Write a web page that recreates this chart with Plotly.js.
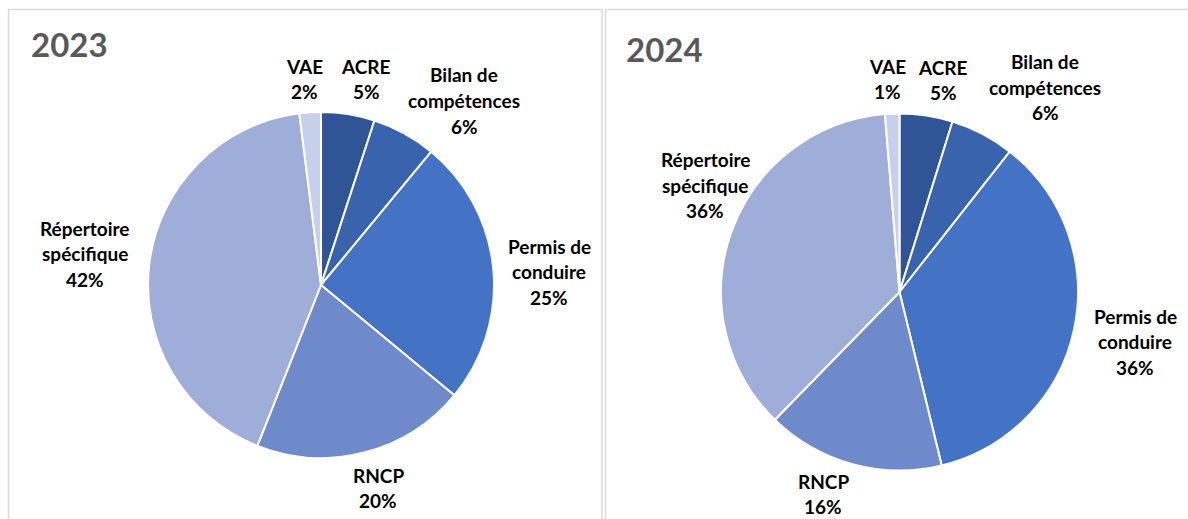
<!DOCTYPE html>
<html>
<head>
<meta charset="utf-8">
<script src="https://cdn.plot.ly/plotly-3.0.1.min.js"></script>
<style>html,body{margin:0;padding:0;background:#fff;}#chart{width:1188px;height:519px;}</style>
</head>
<body>
<div id="chart"></div>
<script>
// Data
const categories = ["ACRE", "Bilan de compétences", "Permis de conduire", "RNCP", "Répertoire spécifique", "VAE"];
const labelLines = [["ACRE"], ["Bilan de", "compétences"], ["Permis de", "conduire"], ["RNCP"], ["Répertoire", "spécifique"], ["VAE"]];
const values2023 = [5, 6, 25, 20, 42, 2];
const values2024 = [4.8, 5.8, 35.6, 16.1, 36.4, 1.3];
const years = ["2023", "2024"];
const colors = ["#2F5597", "#3A63AE", "#4472C4", "#6E8ACB", "#9FAED9", "#C6D0EA"];

const W = 1188, H = 519;
const px = x => x / W;
const py = y => 1 - y / H;

const pies = [
  {values: values2023, domain: {x: [px(148), px(494)], y: [py(458), py(112)]}},
  {values: values2024, domain: {x: [px(721), px(1078)], y: [py(470.5), py(113.5)]}}
];

const traces = pies.map(p => ({
  type: "pie",
  labels: categories,
  values: p.values,
  sort: false,
  direction: "clockwise",
  rotation: 0,
  domain: p.domain,
  marker: {colors: colors, line: {color: "#ffffff", width: 2}},
  textinfo: "none",
  hoverinfo: "label+percent",
  showlegend: false
}));

// label first-line centre positions (px)
const labelPos = [
  [[366, 66], [464, 75], [549, 246], [378, 475], [85, 228], [304, 66]],
  [[943, 67], [1045, 62], [1135, 316], [823, 481], [705, 160], [887, 66]]
];
const lineStep = 25.5;
const font = "Lato, 'Open Sans', sans-serif";
const annotations = [];
pies.forEach((p, k) => {
  categories.forEach((c, i) => {
    const lines = labelLines[i].concat([Math.round(p.values[i]) + "%"]);
    lines.forEach((ln, j) => {
      annotations.push({
        xref: "paper", yref: "paper",
        x: px(labelPos[k][i][0]), y: py(labelPos[k][i][1] + j * lineStep),
        xanchor: "center", yanchor: "middle",
        text: "<b>" + ln + "</b>",
        showarrow: false, align: "center",
        font: {family: font, size: 19, color: "#000000"}
      });
    });
  });
});
annotations.push({xref: "paper", yref: "paper", x: px(29), y: py(44), xanchor: "left", yanchor: "middle",
  text: "<b>" + years[0] + "</b>", showarrow: false, font: {family: font, size: 33, color: "#595959"}});
annotations.push({xref: "paper", yref: "paper", x: px(624), y: py(49.5), xanchor: "left", yanchor: "middle",
  text: "<b>" + years[1] + "</b>", showarrow: false, font: {family: font, size: 33, color: "#595959"}});

const shapes = [
  {type: "rect", xref: "paper", yref: "paper", x0: px(8.5), x1: px(602), y0: py(530), y1: py(9.5),
   line: {color: "#D9D9D9", width: 1.5}, fillcolor: "rgba(0,0,0,0)", layer: "below"},
  {type: "rect", xref: "paper", yref: "paper", x0: px(605.5), x1: px(1200), y0: py(530), y1: py(9.5),
   line: {color: "#D9D9D9", width: 1.5}, fillcolor: "rgba(0,0,0,0)", layer: "below"}
];

const layout = {
  width: W, height: H,
  margin: {l: 0, r: 0, t: 0, b: 0},
  paper_bgcolor: "#ffffff",
  plot_bgcolor: "#ffffff",
  showlegend: false,
  annotations: annotations,
  shapes: shapes,
  font: {family: font}
};

Plotly.newPlot("chart", traces, layout, {displayModeBar: false, staticPlot: true});
</script>
</body>
</html>
